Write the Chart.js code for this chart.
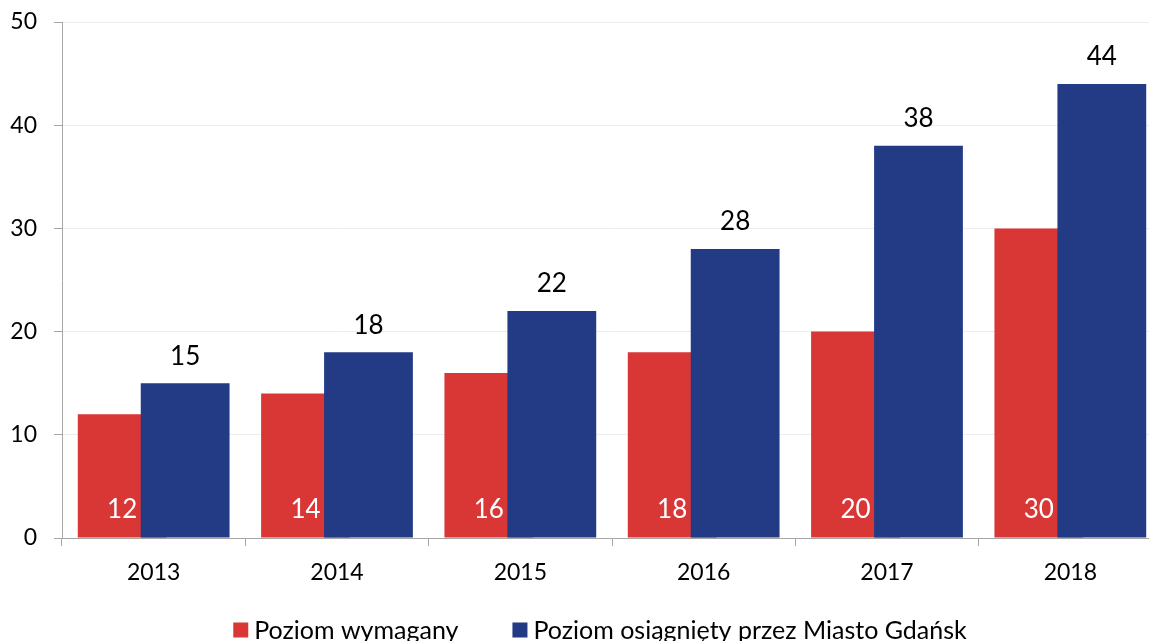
<!DOCTYPE html>
<html lang="pl">
<head>
<meta charset="utf-8">
<title>Poziom recyklingu – Miasto Gdańsk</title>
<script src="https://cdn.jsdelivr.net/npm/chart.js@4/dist/chart.umd.min.js"></script>
<style>
  html, body { margin: 0; padding: 0; background: #ffffff; overflow: hidden; }
  #wrap { width: 1149px; height: 641px; overflow: hidden; }
  canvas { display: block; }
</style>
</head>
<body>
<div id="wrap"><canvas id="chart" width="1170" height="641"></canvas></div>
<script>
// Lata
const years = ['2013', '2014', '2015', '2016', '2017', '2018'];
// Poziom wymagany (%)
const requiredLevel = [12, 14, 16, 18, 20, 30];
// Poziom osiągnięty przez Miasto Gdańsk (%)
const achievedLevel = [15, 18, 22, 28, 38, 44];
// Podziałka osi Y
const yMin = 0;
const yMax = 50;
const yStep = 10;

const seriesNames = ['Poziom wymagany', 'Poziom osiągnięty przez Miasto Gdańsk'];
const seriesColors = ['#d93636', '#233a85'];

const FONT = 'Lato, "Open Sans", "DejaVu Sans", sans-serif';

// Draw the bars in dataset order so the second series overlaps the first.
const drawOrderPlugin = {
  id: 'drawOrder',
  beforeDatasetsDraw(chart) {
    const metas = chart.getSortedVisibleDatasetMetas().slice().sort((a, b) => a.index - b.index);
    metas.forEach(m => m.controller.draw());
    return false;
  }
};

// Value labels: white at the base of the red bars, black above the blue bars.
const valueLabelsPlugin = {
  id: 'valueLabels',
  afterDraw(chart) {
    const ctx = chart.ctx;
    ctx.save();
    ctx.textAlign = 'center';
    ctx.textBaseline = 'middle';
    ctx.font = '26px ' + FONT;
    chart.data.datasets.forEach((ds, di) => {
      const meta = chart.getDatasetMeta(di);
      meta.data.forEach((bar, i) => {
        const v = ds.data[i];
        if (di === 0) {
          ctx.fillStyle = '#ffffff';
          ctx.fillText(String(v), bar.x, bar.base - 28);
        } else {
          ctx.fillStyle = '#000000';
          ctx.fillText(String(v), bar.x, bar.y - 27);
        }
      });
    });
    ctx.restore();
  }
};

// Legend row below the axis.
const legendRowPlugin = {
  id: 'legendRow',
  afterDraw(chart, args, opts) {
    const ctx = chart.ctx;
    ctx.save();
    ctx.font = opts.fontSize + 'px ' + FONT;
    ctx.textBaseline = 'middle';
    ctx.textAlign = 'left';
    const items = chart.data.datasets.map(ds => ({
      text: ds.label, color: ds.backgroundColor, w: ctx.measureText(ds.label).width
    }));
    const total = items.reduce((s, it) => s + opts.box + opts.boxGap + it.w, 0) + opts.itemGap * (items.length - 1);
    let x = opts.centerX - total / 2;
    items.forEach(it => {
      ctx.fillStyle = it.color;
      ctx.fillRect(x, opts.y - opts.box / 2, opts.box, opts.box);
      x += opts.box + opts.boxGap;
      ctx.fillStyle = '#000000';
      ctx.fillText(it.text, x, opts.y + 1);
      x += it.w + opts.itemGap;
    });
    ctx.restore();
  }
};

new Chart(document.getElementById('chart'), {
  type: 'bar',
  data: {
    labels: years,
    datasets: [
      {
        label: seriesNames[0],
        data: requiredLevel,
        backgroundColor: seriesColors[0],
        categoryPercentage: 0.687,
        barPercentage: 1.41
      },
      {
        label: seriesNames[1],
        data: achievedLevel,
        backgroundColor: seriesColors[1],
        categoryPercentage: 0.687,
        barPercentage: 1.41
      }
    ]
  },
  options: {
    responsive: false,
    animation: false,
    layout: { padding: { left: 6, right: 8, top: 22, bottom: 53 } },
    plugins: {
      legend: { display: false },
      tooltip: { enabled: false },
      legendRow: { y: 630, centerX: 600, box: 15, boxGap: 6, itemGap: 54, fontSize: 25 }
    },
    scales: {
      x: {
        afterFit(scale) { scale.height = 50; },
        border: { display: true, color: '#a6a6a6', width: 1 },
        grid: {
          offset: true,
          drawOnChartArea: false,
          drawTicks: true,
          tickLength: 8,
          tickColor: '#a6a6a6'
        },
        ticks: {
          color: '#000000',
          font: { family: FONT, size: 23 },
          padding: 13,
          maxRotation: 0
        }
      },
      y: {
        min: yMin,
        max: yMax,
        afterFit(scale) {
          scale.width = 56;
          scale.paddingTop = 0;
          scale.paddingBottom = 0;
        },
        border: { display: true, color: '#a6a6a6', width: 1 },
        grid: {
          color: '#ececec',
          lineWidth: 1,
          drawTicks: true,
          tickLength: 8,
          tickColor: '#a6a6a6'
        },
        ticks: {
          stepSize: yStep,
          color: '#000000',
          font: { family: FONT, size: 23 },
          padding: 17
        }
      }
    }
  },
  plugins: [drawOrderPlugin, valueLabelsPlugin, legendRowPlugin]
});
</script>
</body>
</html>
